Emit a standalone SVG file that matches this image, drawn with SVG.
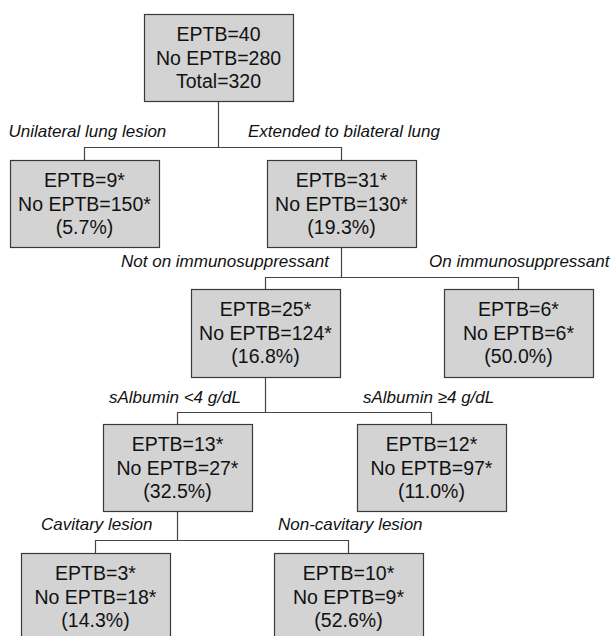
<svg xmlns="http://www.w3.org/2000/svg" width="613" height="636" viewBox="0 0 613 636">
<style>
.box{fill:#d3d3d3;stroke:#3a3a3a;stroke-width:1.2}
.t{font-family:"Liberation Sans",Arial,sans-serif;font-size:19.5px;fill:#111;text-anchor:middle}
.lbl{font-family:"Liberation Sans",Arial,sans-serif;font-size:17px;font-style:italic;fill:#111}
.c{fill:none;stroke:#444;stroke-width:1.2}
</style>
<rect width="613" height="636" fill="#fff"/>
<g id="connectors">
<path class="c" d="M218.5,101V147.5M84.5,160V147.5H341.5V160"/>
<path class="c" d="M341.5,247V277.5M265.5,289V277.5H518.5V289"/>
<path class="c" d="M265.5,377V412.5M177.5,424V412.5H431.5V424"/>
<path class="c" d="M177.5,511V540.5M95.5,553V540.5H348.5V553"/>
</g>
<g id="labels">
<text class="lbl" x="8.5" y="137">Unilateral lung lesion</text>
<text class="lbl" x="248" y="137">Extended to bilateral lung</text>
<text class="lbl" x="121" y="267">Not on immunosuppressant</text>
<text class="lbl" x="429" y="267">On immunosuppressant</text>
<text class="lbl" x="109" y="403">sAlbumin &lt;4 g/dL</text>
<text class="lbl" x="363" y="403">sAlbumin ≥4 g/dL</text>
<text class="lbl" x="41" y="530">Cavitary lesion</text>
<text class="lbl" x="278" y="530">Non-cavitary lesion</text>
</g>
<g id="n0"><rect class="box" x="144.5" y="14.5" width="149" height="87"/>
<text class="t" x="218.5" y="41">EPTB=40</text><text class="t" x="218.5" y="64.5">No EPTB=280</text><text class="t" x="218.5" y="88">Total=320</text></g>
<g id="n1"><rect class="box" x="10.5" y="160.5" width="149" height="87"/>
<text class="t" x="84.5" y="187">EPTB=9*</text><text class="t" x="84.5" y="210.5">No EPTB=150*</text><text class="t" x="84.5" y="234">(5.7%)</text></g>
<g id="n2"><rect class="box" x="267.5" y="160.5" width="149" height="87"/>
<text class="t" x="341.5" y="187">EPTB=31*</text><text class="t" x="341.5" y="210.5">No EPTB=130*</text><text class="t" x="341.5" y="234">(19.3%)</text></g>
<g id="n3"><rect class="box" x="191.5" y="289.5" width="149" height="88"/>
<text class="t" x="265.5" y="316">EPTB=25*</text><text class="t" x="265.5" y="339.5">No EPTB=124*</text><text class="t" x="265.5" y="363">(16.8%)</text></g>
<g id="n4"><rect class="box" x="444.5" y="289.5" width="149" height="88"/>
<text class="t" x="518.5" y="316">EPTB=6*</text><text class="t" x="518.5" y="339.5">No EPTB=6*</text><text class="t" x="518.5" y="363">(50.0%)</text></g>
<g id="n5"><rect class="box" x="103.5" y="424.5" width="149" height="87"/>
<text class="t" x="177.5" y="451">EPTB=13*</text><text class="t" x="177.5" y="474.5">No EPTB=27*</text><text class="t" x="177.5" y="498">(32.5%)</text></g>
<g id="n6"><rect class="box" x="357.5" y="424.5" width="149" height="87"/>
<text class="t" x="431.5" y="451">EPTB=12*</text><text class="t" x="431.5" y="474.5">No EPTB=97*</text><text class="t" x="431.5" y="498">(11.0%)</text></g>
<g id="n7"><rect class="box" x="21.5" y="553.5" width="149" height="88"/>
<text class="t" x="95.5" y="580">EPTB=3*</text><text class="t" x="95.5" y="603.5">No EPTB=18*</text><text class="t" x="95.5" y="627">(14.3%)</text></g>
<g id="n8"><rect class="box" x="274.5" y="553.5" width="149" height="88"/>
<text class="t" x="348.5" y="580">EPTB=10*</text><text class="t" x="348.5" y="603.5">No EPTB=9*</text><text class="t" x="348.5" y="627">(52.6%)</text></g>
</svg>
